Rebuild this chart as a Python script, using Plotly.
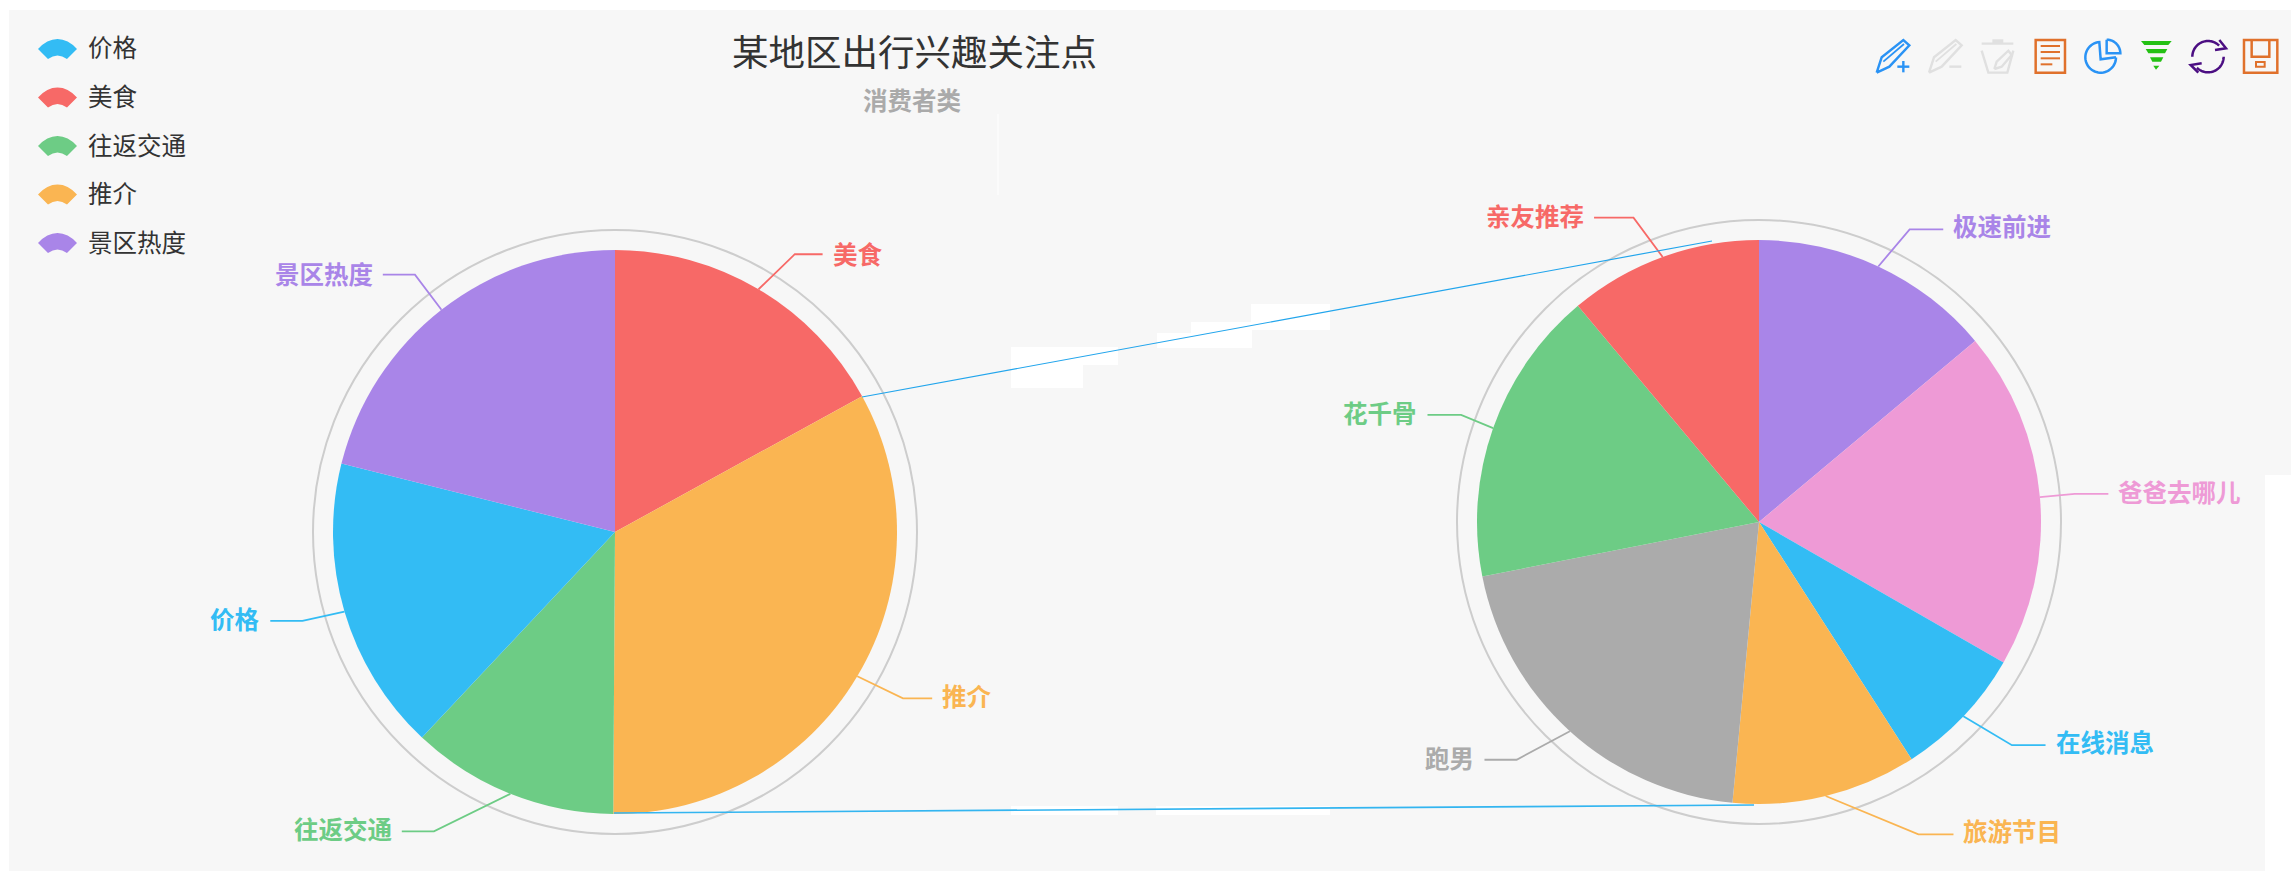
import math
import plotly.graph_objects as go

W, H = 2291, 871
FONT = "Noto Sans CJK SC"

# ---- data ----
title_text = "某地区出行兴趣关注点"
subtitle_text = "消费者类"
legend_items = ["价格", "美食", "往返交通", "推介", "景区热度"]
left_labels = ["美食", "推介", "往返交通", "价格", "景区热度"]
left_values = [17.0, 33.1, 11.9, 16.9, 21.1]
right_labels = ["极速前进", "爸爸去哪儿", "在线消息", "旅游节目", "跑男", "花千骨", "亲友推荐"]
right_values = [13.9, 19.4, 7.6, 10.6, 20.4, 17.0, 11.1]

# ---- style ----
COL = {"价格": "#33BCF4", "美食": "#F76967", "往返交通": "#6DCC85", "推介": "#FAB552", "景区热度": "#A985E8",
       "极速前进": "#A985E8", "爸爸去哪儿": "#EE9AD6", "在线消息": "#33BCF4", "旅游节目": "#FAB552",
       "跑男": "#ABABAB", "花千骨": "#6DCC85", "亲友推荐": "#F76967"}
BG = "#F7F7F7"
LEFT_C, RIGHT_C, R, RING = (615, 532), (1759, 522), 282, 302
S = 2291 / 1568
# elbow x, line y, label end x (in the 1568 wide view), label y (same view)
LEFT_GUIDE = {"美食": (544, 174, 563, 174), "推介": (618, 478, 638, 477), "往返交通": (297, 569, 275, 568),
              "价格": (207, 425, 185, 424), "景区热度": (284, 188, 262, 188)}
RIGHT_GUIDE = {"极速前进": (1307, 157, 1330, 155), "爸爸去哪儿": (1420, 338, 1443, 337),
               "在线消息": (1377, 510, 1400, 508), "旅游节目": (1313, 571, 1337, 569),
               "跑男": (1038, 520, 1016, 519), "花千骨": (1000, 284, 977, 283),
               "亲友推荐": (1118, 149, 1091, 148)}


def X(p):
    return p / W


def Y(p):
    return 1 - p / H


def path(points, close=False):
    s = "M" + " L".join(f"{X(a):.5f},{Y(b):.5f}" for a, b in points)
    return s + (" Z" if close else "")


def rect(x0, y0, x1, y1, color, layer="below"):
    return dict(type="rect", xref="paper", yref="paper", x0=X(x0), x1=X(x1), y0=Y(y0), y1=Y(y1),
                fillcolor=color, line_width=0, layer=layer)


def stroke(points, color, width=2, close=False, fill=None, layer="above"):
    d = dict(type="path", xref="paper", yref="paper", path=path(points, close),
             line=dict(color=color, width=width), layer=layer)
    if fill:
        d["fillcolor"] = fill
        d["line"] = dict(color=fill, width=0)
    return d


def arc(cx, cy, r, a0, a1, n=40):
    """angles in degrees, clockwise from top"""
    return [(cx + r * math.sin(math.radians(a0 + (a1 - a0) * i / n)),
             cy - r * math.cos(math.radians(a0 + (a1 - a0) * i / n))) for i in range(n + 1)]


shapes = [
    rect(9, 10, W, 475, BG),
    rect(9, 475, 2265, H, BG),
    # white patches
    rect(1011, 347, 1118, 365, "white"), rect(1011, 365, 1083, 388, "white"),
    rect(1157, 333, 1252, 348, "white"), rect(1191, 322, 1252, 333, "white"),
    rect(1251, 304, 1330, 330, "white"),
    rect(1011, 806, 1118, 815, "white"), rect(1156, 806, 1330, 815, "white"),
    rect(997.5, 114, 998.5, 195, "white"),
]

# rings
for c in (LEFT_C, RIGHT_C):
    shapes.append(dict(type="circle", xref="paper", yref="paper", x0=X(c[0] - RING), x1=X(c[0] + RING),
                       y0=Y(c[1] + RING), y1=Y(c[1] - RING), line=dict(color="#CDCDCD", width=2), layer="below"))

annotations = []


def text(x, y, s, size, color, anchor="left", weight=400):
    annotations.append(dict(x=X(x), y=Y(y), xref="paper", yref="paper", text=s,
                            showarrow=False, xanchor=anchor, yanchor="middle",
                            font=dict(family=FONT, size=size, color=color, weight=weight)))


text(914, 51, title_text, 36.5, "#333333", "center")
text(912, 99, subtitle_text, 24.5, "#AAAAAA", "center", 700)

# legend
for i, name in enumerate(legend_items):
    cy = 49 + i * 48.5
    d = (f"M{X(38):.5f},{Y(cy):.5f} Q{X(47):.5f},{Y(cy-10):.5f} {X(57.5):.5f},{Y(cy-10):.5f} "
         f"Q{X(68):.5f},{Y(cy-10):.5f} {X(77):.5f},{Y(cy):.5f} L{X(67):.5f},{Y(cy+10):.5f} "
         f"Q{X(57.5):.5f},{Y(cy+3):.5f} {X(48):.5f},{Y(cy+10):.5f} Z")
    shapes.append(dict(type="path", xref="paper", yref="paper", path=d, fillcolor=COL[name], line_width=0))
    text(86, cy - 2, name, 24.5, "#333333")


def guides(labels, values, centre, guide):
    total, acc = sum(values), 0
    for name, v in zip(labels, values):
        mid = (acc + v / 2) / total * 360
        acc += v
        ex, ly, tx, ty = guide[name]
        ex, ly, tx, ty = ex * S, ly * S, tx * S, ty * S
        sx = centre[0] + R * math.sin(math.radians(mid))
        sy = centre[1] - R * math.cos(math.radians(mid))
        shapes.append(stroke([(sx, sy), (ex, ly), (tx, ly)], COL[name], 1.8))
        right = tx > ex
        text(tx + (8 if right else -8), ty - 1, name, 24.5, COL[name], "left" if right else "right", 700)


guides(left_labels, left_values, LEFT_C, LEFT_GUIDE)
guides(right_labels, right_values, RIGHT_C, RIGHT_GUIDE)

# link lines
shapes.append(stroke([(862, 397), (1712, 241)], "#22A5EC", 1.2))
shapes.append(stroke([(614, 813), (1754, 805)], "#33B5F0", 1.6))


# toolbox icons, written in 3x coordinates from x=1800
def Z(pts):
    return [(1800 + a / 3, b / 3) for a, b in pts]


BLUE, GREY, ORANGE, GREEN, PURPLE = "#2A93F5", "#E0E0E0", "#E0712C", "#24C114", "#4B0E82"
for dx, c in ((0, BLUE), (157, GREY)):
    shapes.append(stroke(Z([(230 + dx, 218), (245 + dx, 172), (310 + dx, 120), (328 + dx, 136),
                            (268 + dx, 200)]) + Z([(230 + dx, 218)]), c, 2.4))
    shapes.append(stroke(Z([(250 + dx, 185), (312 + dx, 132)]), c, 1.8))
shapes.append(stroke(Z([(292, 200), (328, 200)]), BLUE, 2.4))
shapes.append(stroke(Z([(310, 183), (310, 217)]), BLUE, 2.4))
shapes.append(stroke(Z([(448, 200), (484, 200)]), GREY, 2.4))
# trash
shapes.append(stroke(Z([(545, 131), (640, 131)]), GREY, 2.4))
shapes.append(stroke(Z([(577, 118), (610, 118), (610, 131), (577, 131)]), GREY, 0, True, GREY))
shapes.append(stroke(Z([(545, 152), (565, 218), (622, 218), (640, 152)]), GREY, 2.4))
shapes.append(stroke(Z([(583, 207), (590, 185), (625, 152), (635, 165), (605, 200)]) + Z([(583, 207)]), GREY, 2.4))
# data view
shapes.append(stroke(Z([(707, 120), (795, 120), (795, 218), (707, 218)]), ORANGE, 2.5, True))
for y, x1 in ((138, 780), (156, 780), (175, 780), (193, 757)):
    shapes.append(stroke(Z([(722, y), (x1, y)]), ORANGE, 2))
# pie icon
shapes.append(stroke(Z(arc(902, 172, 46, 90, 355)) + Z([(902, 178), (948, 172)]), BLUE, 2.5))
shapes.append(stroke(Z(arc(920, 160, 41, 0, 90)) + Z([(920, 160), (920, 119)]), BLUE, 2.5))
# funnel
for pts in ([(1023, 123), (1115, 123), (1105, 135), (1033, 135)],
            [(1037, 147), (1102, 147), (1095, 160), (1045, 160)],
            [(1050, 172), (1090, 172), (1083, 185), (1057, 185)],
            [(1060, 197), (1078, 197), (1068, 209)]):
    shapes.append(stroke(Z(pts), GREEN, 0, True, GREEN))
# restore
shapes.append(stroke(Z(arc(1224, 170, 47, -90, 45)), PURPLE, 2.5))
shapes.append(stroke(Z([(1258, 120), (1278, 145), (1245, 150)]), PURPLE, 2.5))
shapes.append(stroke(Z(arc(1224, 170, 47, 90, 225)), PURPLE, 2.5))
shapes.append(stroke(Z([(1195, 218), (1172, 195), (1205, 190)]), PURPLE, 2.5))
# save
shapes.append(stroke(Z([(1332, 120), (1432, 120), (1432, 218), (1332, 218)]), ORANGE, 2.5, True))
shapes.append(stroke(Z([(1355, 120), (1355, 170), (1408, 170), (1408, 120)]), ORANGE, 2.5))
shapes.append(stroke(Z([(1368, 186), (1394, 186), (1394, 200), (1368, 200)]), ORANGE, 2, True))


def pie(labels, values, c):
    return go.Pie(labels=labels, values=values, sort=False, direction="clockwise", rotation=0,
                  textinfo="none", showlegend=False,
                  marker=dict(colors=[COL[n] for n in labels], line=dict(width=0)),
                  domain=dict(x=[X(c[0] - R), X(c[0] + R)], y=[Y(c[1] + R), Y(c[1] - R)]))


fig = go.Figure([pie(left_labels, left_values, LEFT_C), pie(right_labels, right_values, RIGHT_C)])
fig.update_layout(width=W, height=H, margin=dict(l=0, r=0, t=0, b=0, pad=0), paper_bgcolor="white",
                  shapes=shapes, annotations=annotations, showlegend=False)
fig.write_html("out.html", config={"displayModeBar": False},
               post_script="document.body.style.margin='0';document.documentElement.style.overflow='hidden';")
